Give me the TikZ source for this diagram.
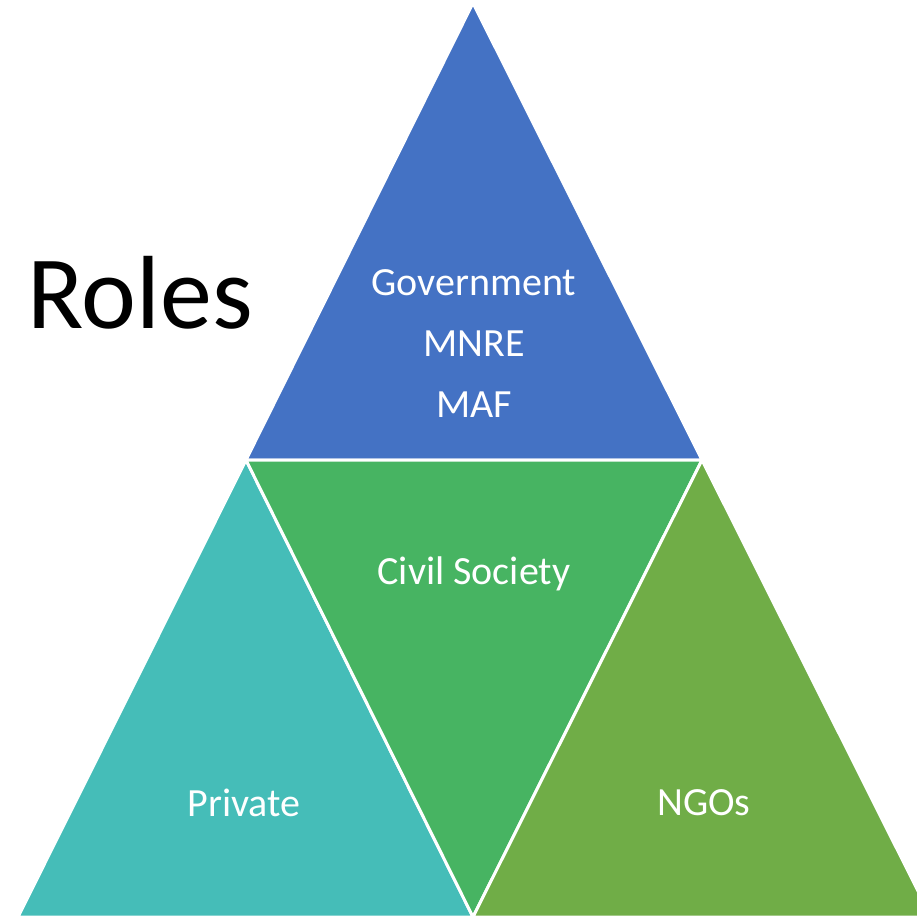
\documentclass[tikz,border=0pt]{standalone}
\usepackage{fontspec}
\setmainfont{Carlito}
\usetikzlibrary{positioning}
\definecolor{govblue}{HTML}{4472C4}
\definecolor{civgreen}{HTML}{47B462}
\definecolor{privteal}{HTML}{45BDB8}
\definecolor{ngogreen}{HTML}{70AD47}
\tikzset{
  part/.style  = {draw=white, line width=3pt, line join=miter},
  label/.style = {text=white, inner sep=0pt, align=center,
                  font=\fontsize{40}{61}\selectfont},
  title/.style = {inner sep=0pt, font=\fontsize{104}{110}\selectfont}
}

\begin{document}
\begin{tikzpicture}[x=1pt,y=-1pt]
    \useasboundingbox (0,0) rectangle (917,919);

    % corners of the four triangles
    \coordinate (apex) at (473,3);
    \coordinate (midL) at (246,460);
    \coordinate (midR) at (702,460);
    \coordinate (botL) at (18,917);
    \coordinate (botM) at (473,917);
    \coordinate (botR) at (931,917);

    % triangles
    \filldraw[part, fill=govblue]  (apex) -- (midL) -- (midR) -- cycle;
    \filldraw[part, fill=privteal] (midL) -- (botL) -- (botM) -- cycle;
    \filldraw[part, fill=civgreen] (midL) -- (midR) -- (botM) -- cycle;
    \filldraw[part, fill=ngogreen] (midR) -- (botM) -- (botR) -- cycle;

    % texts
    \node[title] (roles) at (140,293) {Roles};
    \node[label] (gov)   at (474,344) {Government\\MNRE\\MAF};
    \node[label] (civil) at (474,574) {Civil Society};
    \node[label] (priv)  at (244,803) {Private};
    \node[label] (ngo)   at (704,803) {NGOs};
\end{tikzpicture}
\end{document}
